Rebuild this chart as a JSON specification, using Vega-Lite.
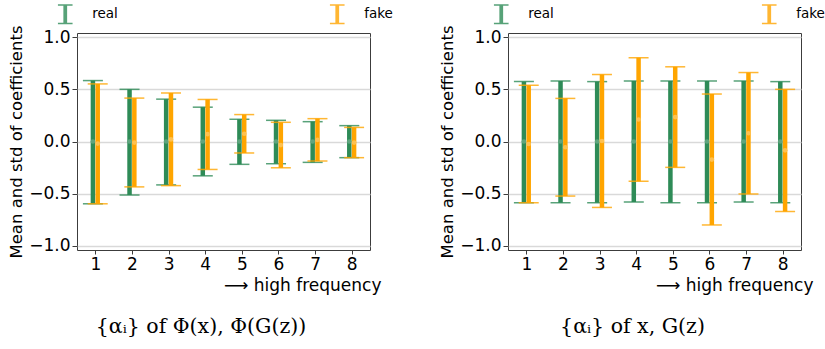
{
  "$schema": "https://vega.github.io/schema/vega-lite/v6.json",
  "background": "white",
  "padding": {"left": 8, "top": 2, "right": 5, "bottom": 5},
  "config": {
    "font": "DejaVu Sans",
    "view": {"stroke": "#3c3c3c", "strokeWidth": 1},
    "axis": {"domain": false, "labelFont": "DejaVu Sans", "labelFontSize": 17, "labelColor": "black", "titleFont": "DejaVu Sans", "titleFontSize": 16.5, "titleFontWeight": "normal", "titleColor": "black", "tickColor": "#3c3c3c", "tickSize": 4},
    "axisY": {"tickCount": 5, "format": ".1f", "grid": true, "gridColor": "#d9d9d9", "gridWidth": 1.3, "labelPadding": 2, "titlePadding": 4, "tickSize": 5},
    "axisX": {"grid": false, "labelPadding": 2, "labelFlush": false, "titleFontSize": 17},
    "title": {"font": "DejaVu Serif", "fontSize": 20.5, "fontWeight": "normal", "color": "black", "orient": "bottom", "anchor": "middle", "frame": "bounds", "offset": 23}
  },
  "datasets": {
    "phi": [
      {"series": "real", "k": 1, "mean": 0, "lo": -0.597, "hi": 0.584},
      {"series": "real", "k": 2, "mean": 0, "lo": -0.513, "hi": 0.5},
      {"series": "real", "k": 3, "mean": 0, "lo": -0.416, "hi": 0.406},
      {"series": "real", "k": 4, "mean": 0, "lo": -0.329, "hi": 0.329},
      {"series": "real", "k": 5, "mean": 0, "lo": -0.219, "hi": 0.213},
      {"series": "real", "k": 6, "mean": 0, "lo": -0.213, "hi": 0.203},
      {"series": "real", "k": 7, "mean": 0, "lo": -0.2, "hi": 0.19},
      {"series": "real", "k": 8, "mean": 0, "lo": -0.155, "hi": 0.152},
      {"series": "fake", "k": 1, "mean": -0.02, "lo": -0.597, "hi": 0.552},
      {"series": "fake", "k": 2, "mean": -0.01, "lo": -0.435, "hi": 0.416},
      {"series": "fake", "k": 3, "mean": 0.02, "lo": -0.423, "hi": 0.465},
      {"series": "fake", "k": 4, "mean": 0.07, "lo": -0.268, "hi": 0.403},
      {"series": "fake", "k": 5, "mean": 0.074, "lo": -0.11, "hi": 0.258},
      {"series": "fake", "k": 6, "mean": -0.034, "lo": -0.252, "hi": 0.184},
      {"series": "fake", "k": 7, "mean": 0.016, "lo": -0.187, "hi": 0.219},
      {"series": "fake", "k": 8, "mean": -0.01, "lo": -0.155, "hi": 0.135}
    ],
    "pixel": [
      {"series": "real", "k": 1, "mean": 0, "lo": -0.587, "hi": 0.574},
      {"series": "real", "k": 2, "mean": 0, "lo": -0.587, "hi": 0.58},
      {"series": "real", "k": 3, "mean": 0, "lo": -0.587, "hi": 0.574},
      {"series": "real", "k": 4, "mean": 0, "lo": -0.58, "hi": 0.58},
      {"series": "real", "k": 5, "mean": 0, "lo": -0.587, "hi": 0.58},
      {"series": "real", "k": 6, "mean": 0, "lo": -0.587, "hi": 0.58},
      {"series": "real", "k": 7, "mean": 0, "lo": -0.58, "hi": 0.58},
      {"series": "real", "k": 8, "mean": 0, "lo": -0.587, "hi": 0.574},
      {"series": "fake", "k": 1, "mean": -0.024, "lo": -0.587, "hi": 0.539},
      {"series": "fake", "k": 2, "mean": -0.055, "lo": -0.523, "hi": 0.413},
      {"series": "fake", "k": 3, "mean": 0.005, "lo": -0.632, "hi": 0.642},
      {"series": "fake", "k": 4, "mean": 0.211, "lo": -0.381, "hi": 0.803},
      {"series": "fake", "k": 5, "mean": 0.234, "lo": -0.248, "hi": 0.716},
      {"series": "fake", "k": 6, "mean": -0.173, "lo": -0.8, "hi": 0.455},
      {"series": "fake", "k": 7, "mean": 0.079, "lo": -0.503, "hi": 0.661},
      {"series": "fake", "k": 8, "mean": -0.085, "lo": -0.671, "hi": 0.5}
    ]
  },
  "spacing": 138,
  "bounds": "flush",
  "resolve": {"scale": {"color": "independent", "fill": "independent"}},
  "hconcat": [
    {
      "width": 293,
      "height": 217,
      "data": {"name": "phi"},
      "title": {"text": "{αᵢ}   of   Φ(x),  Φ(G(z))"},
      "encoding": {
        "x": {"field": "k", "type": "quantitative", "scale": {"domain": [0.5, 8.5], "nice": false, "zero": false}, "axis": {"values": [1, 2, 3, 4, 5, 6, 7, 8], "format": "d", "title": "⟶ high frequency", "titleX": 304, "titleY": 35.5, "titleAlign": "right", "titleBaseline": "middle"}},
        "color": {"field": "series", "type": "nominal", "scale": {"domain": ["real", "fake"], "range": ["#2e8b57", "#ffa500"]}, "legend": {"orient": "none", "legendX": -22.75, "legendY": -30, "direction": "horizontal", "title": null, "symbolType": "M-0.75,-0.95H0.75M-0.75,0.95H0.75M-0.11,-0.95V0.95M0,-0.95V0.95M0.11,-0.95V0.95", "symbolSize": 380, "symbolStrokeWidth": 1.6, "labelFontSize": 13.5, "labelFont": "DejaVu Sans", "labelColor": "black", "labelOffset": 16, "columnPadding": 208}}
      },
      "layer": [
        {"transform": [{"filter": "datum.series === 'real'"}], "mark": {"type": "rule", "strokeWidth": 4.5, "xOffset": -2.4}, "encoding": {"y": {"field": "lo", "type": "quantitative", "title": "Mean and std of coefficients", "scale": {"domain": [-1.04, 1.04], "nice": false, "zero": false}}, "y2": {"field": "hi"}}},
        {"transform": [{"filter": "datum.series === 'real'"}], "mark": {"type": "tick", "orient": "horizontal", "size": 20, "thickness": 1.5, "opacity": 0.8, "xOffset": -2.4}, "encoding": {"y": {"field": "lo", "type": "quantitative", "title": "Mean and std of coefficients"}}},
        {"transform": [{"filter": "datum.series === 'real'"}], "mark": {"type": "tick", "orient": "horizontal", "size": 20, "thickness": 1.5, "opacity": 0.8, "xOffset": -2.4}, "encoding": {"y": {"field": "hi", "type": "quantitative", "title": "Mean and std of coefficients"}}},
        {"transform": [{"filter": "datum.series === 'real'"}], "mark": {"type": "point", "filled": true, "size": 22, "opacity": 1, "xOffset": -2.4}, "encoding": {"y": {"field": "mean", "type": "quantitative", "title": "Mean and std of coefficients"}, "fill": {"field": "series", "type": "nominal", "scale": {"domain": ["real", "fake"], "range": ["#5fa47e", "#ffc14f"]}, "legend": null}}},
        {"transform": [{"filter": "datum.series === 'fake'"}], "mark": {"type": "rule", "strokeWidth": 4.5, "xOffset": 2.4}, "encoding": {"y": {"field": "lo", "type": "quantitative", "title": "Mean and std of coefficients"}, "y2": {"field": "hi"}}},
        {"transform": [{"filter": "datum.series === 'fake'"}], "mark": {"type": "tick", "orient": "horizontal", "size": 20, "thickness": 1.5, "opacity": 0.8, "xOffset": 2.4}, "encoding": {"y": {"field": "lo", "type": "quantitative", "title": "Mean and std of coefficients"}}},
        {"transform": [{"filter": "datum.series === 'fake'"}], "mark": {"type": "tick", "orient": "horizontal", "size": 20, "thickness": 1.5, "opacity": 0.8, "xOffset": 2.4}, "encoding": {"y": {"field": "hi", "type": "quantitative", "title": "Mean and std of coefficients"}}},
        {"transform": [{"filter": "datum.series === 'fake'"}], "mark": {"type": "point", "filled": true, "size": 22, "opacity": 1, "xOffset": 2.4}, "encoding": {"y": {"field": "mean", "type": "quantitative", "title": "Mean and std of coefficients"}, "fill": {"field": "series", "type": "nominal", "scale": {"domain": ["real", "fake"], "range": ["#5fa47e", "#ffc14f"]}, "legend": null}}}
      ]
    },
    {
      "width": 293,
      "height": 217,
      "data": {"name": "pixel"},
      "title": {"text": "{αᵢ}   of   x,  G(z)"},
      "encoding": {
        "x": {"field": "k", "type": "quantitative", "scale": {"domain": [0.5, 8.5], "nice": false, "zero": false}, "axis": {"values": [1, 2, 3, 4, 5, 6, 7, 8], "format": "d", "title": "⟶ high frequency", "titleX": 305, "titleY": 35.5, "titleAlign": "right", "titleBaseline": "middle"}},
        "color": {"field": "series", "type": "nominal", "scale": {"domain": ["real", "fake"], "range": ["#2e8b57", "#ffa500"]}, "legend": {"orient": "none", "legendX": -17.75, "legendY": -30, "direction": "horizontal", "title": null, "symbolType": "M-0.75,-0.95H0.75M-0.75,0.95H0.75M-0.11,-0.95V0.95M0,-0.95V0.95M0.11,-0.95V0.95", "symbolSize": 380, "symbolStrokeWidth": 1.6, "labelFontSize": 13.5, "labelFont": "DejaVu Sans", "labelColor": "black", "labelOffset": 16, "columnPadding": 204}}
      },
      "layer": [
        {"transform": [{"filter": "datum.series === 'real'"}], "mark": {"type": "rule", "strokeWidth": 4.5, "xOffset": -2.4}, "encoding": {"y": {"field": "lo", "type": "quantitative", "title": "Mean and std of coefficients", "scale": {"domain": [-1.04, 1.04], "nice": false, "zero": false}}, "y2": {"field": "hi"}}},
        {"transform": [{"filter": "datum.series === 'real'"}], "mark": {"type": "tick", "orient": "horizontal", "size": 20, "thickness": 1.5, "opacity": 0.8, "xOffset": -2.4}, "encoding": {"y": {"field": "lo", "type": "quantitative", "title": "Mean and std of coefficients"}}},
        {"transform": [{"filter": "datum.series === 'real'"}], "mark": {"type": "tick", "orient": "horizontal", "size": 20, "thickness": 1.5, "opacity": 0.8, "xOffset": -2.4}, "encoding": {"y": {"field": "hi", "type": "quantitative", "title": "Mean and std of coefficients"}}},
        {"transform": [{"filter": "datum.series === 'real'"}], "mark": {"type": "point", "filled": true, "size": 22, "opacity": 1, "xOffset": -2.4}, "encoding": {"y": {"field": "mean", "type": "quantitative", "title": "Mean and std of coefficients"}, "fill": {"field": "series", "type": "nominal", "scale": {"domain": ["real", "fake"], "range": ["#5fa47e", "#ffc14f"]}, "legend": null}}},
        {"transform": [{"filter": "datum.series === 'fake'"}], "mark": {"type": "rule", "strokeWidth": 4.5, "xOffset": 2.4}, "encoding": {"y": {"field": "lo", "type": "quantitative", "title": "Mean and std of coefficients"}, "y2": {"field": "hi"}}},
        {"transform": [{"filter": "datum.series === 'fake'"}], "mark": {"type": "tick", "orient": "horizontal", "size": 20, "thickness": 1.5, "opacity": 0.8, "xOffset": 2.4}, "encoding": {"y": {"field": "lo", "type": "quantitative", "title": "Mean and std of coefficients"}}},
        {"transform": [{"filter": "datum.series === 'fake'"}], "mark": {"type": "tick", "orient": "horizontal", "size": 20, "thickness": 1.5, "opacity": 0.8, "xOffset": 2.4}, "encoding": {"y": {"field": "hi", "type": "quantitative", "title": "Mean and std of coefficients"}}},
        {"transform": [{"filter": "datum.series === 'fake'"}], "mark": {"type": "point", "filled": true, "size": 22, "opacity": 1, "xOffset": 2.4}, "encoding": {"y": {"field": "mean", "type": "quantitative", "title": "Mean and std of coefficients"}, "fill": {"field": "series", "type": "nominal", "scale": {"domain": ["real", "fake"], "range": ["#5fa47e", "#ffc14f"]}, "legend": null}}}
      ]
    }
  ]
}
